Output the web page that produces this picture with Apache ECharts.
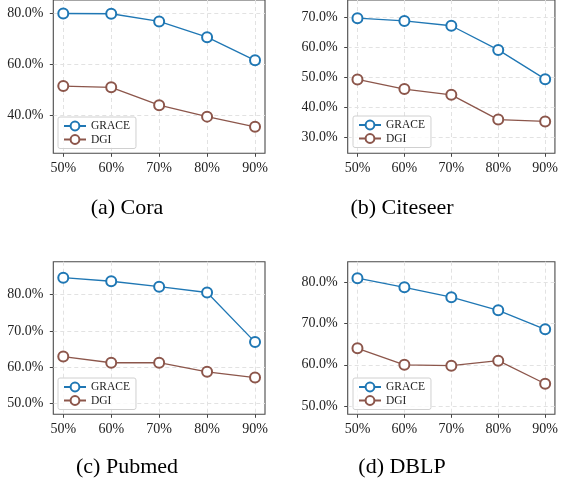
<!DOCTYPE html>
<html>
<head>
<meta charset="utf-8">
<script src="https://cdn.jsdelivr.net/npm/echarts@6/dist/echarts.min.js"></script>
<style>html,body{margin:0;padding:0;background:#fff}#c{width:561px;height:485px}</style>
</head>
<body>
<div id="c"></div>
<script>
// ---- data ----
const ratioValues = [50, 60, 70, 80, 90];
const seriesNames = ['GRACE', 'DGI'];
const captions = ['(a) Cora', '(b) Citeseer', '(c) Pubmed', '(d) DBLP'];

const coraGRACE = [80.0, 79.9, 76.9, 70.7, 61.6];
const coraDGI = [51.5, 51.0, 44.0, 39.5, 35.5];
const citeseerGRACE = [69.6, 68.7, 67.1, 59.1, 49.4];
const citeseerDGI = [49.3, 46.1, 44.2, 36.0, 35.4];
const pubmedGRACE = [84.7, 83.7, 82.2, 80.6, 66.9];
const pubmedDGI = [62.9, 61.2, 61.2, 58.7, 57.1];
const dblpGRACE = [81.0, 78.8, 76.4, 73.2, 68.6];
const dblpDGI = [64.0, 60.0, 59.8, 61.0, 55.4];

const coraTicks = [40, 60, 80];
const citeseerTicks = [30, 40, 50, 60, 70];
const pubmedTicks = [50, 60, 70, 80];
const dblpTicks = [50, 60, 70, 80];

// ---- layout / style ----
const colors = ['#1f77b4', '#8c564b'];
const panels = [
  {g: coraGRACE, d: coraDGI, ticks: coraTicks, yMin: 25.1, yMax: 85.3,
   grid: {left: 53.3, top: 0, width: 211.7, height: 153.3}, legend: {left: 58, top: 117}, cap: {x: 127, y: 208}},
  {g: citeseerGRACE, d: citeseerDGI, ticks: citeseerTicks, yMin: 24.83, yMax: 75.63,
   grid: {left: 347.7, top: 0, width: 210.6, height: 153.3}, legend: {left: 353, top: 116}, cap: {x: 402, y: 208}},
  {g: pubmedGRACE, d: pubmedDGI, ticks: pubmedTicks, yMin: 46.96, yMax: 89.1,
   grid: {left: 53.3, top: 261.7, width: 211.7, height: 152.6}, legend: {left: 58, top: 378}, cap: {x: 127, y: 467}},
  {g: dblpGRACE, d: dblpDGI, ticks: dblpTicks, yMin: 48.0, yMax: 85.0,
   grid: {left: 347.7, top: 261.7, width: 210.6, height: 152.6}, legend: {left: 353, top: 378}, cap: {x: 402, y: 467}}
];

const tickFont = {fontFamily: 'Liberation Serif', fontSize: 14, color: '#222'};
const gridArr = [], xArr = [], yArr = [], seriesArr = [], legendArr = [], graphicArr = [];

panels.forEach((p, i) => {
  gridArr.push(Object.assign({show: true, borderColor: '#4a4a4a', borderWidth: 1.1, backgroundColor: 'transparent'}, p.grid));
  xArr.push({
    type: 'value', gridIndex: i, min: 47.92, max: 92.08,
    axisLine: {show: false},
    axisTick: {show: true, length: 3.5, lineStyle: {color: '#444'}, customValues: ratioValues},
    axisLabel: Object.assign({margin: 8.5, customValues: ratioValues, formatter: v => Math.round(v) + '%'}, tickFont),
    splitLine: {show: true, lineStyle: {color: '#e2e2e2', type: [4, 3], width: 1}}
  });
  yArr.push({
    type: 'value', gridIndex: i, min: p.yMin, max: p.yMax,
    axisLine: {show: false},
    axisTick: {show: true, length: 3.5, lineStyle: {color: '#444'}, customValues: p.ticks},
    axisLabel: Object.assign({margin: 10, customValues: p.ticks, formatter: v => v.toFixed(1) + '%'}, tickFont),
    splitLine: {show: true, lineStyle: {color: '#e2e2e2', type: [4, 3], width: 1}}
  });
  [p.g, p.d].forEach((vals, k) => {
    seriesArr.push({
      name: seriesNames[k], type: 'line', xAxisIndex: i, yAxisIndex: i,
      data: ratioValues.map((x, j) => [x, vals[j]]),
      symbol: 'emptyCircle', symbolSize: 10,
      itemStyle: {color: colors[k], borderWidth: 1.3},
      lineStyle: {color: colors[k], width: 1.3},
      emphasis: {disabled: true}, animation: false
    });
  });
  legendArr.push({
    data: seriesNames, orient: 'vertical', left: p.legend.left, top: p.legend.top,
    itemWidth: 22, itemHeight: 11, itemGap: 1.5,
    padding: [3, 6, 3, 5],
    borderColor: '#d0d0d0', borderWidth: 1, borderRadius: 2, backgroundColor: 'rgba(255,255,255,0.8)',
    textStyle: {fontFamily: 'Liberation Serif', fontSize: 11.5, color: '#222', lineHeight: 12},
    selectedMode: false
  });
  graphicArr.push({
    type: 'text', x: p.cap.x, y: p.cap.y,
    style: {text: captions[i], font: '22px "Liberation Serif"', fill: '#000', textAlign: 'center', textVerticalAlign: 'middle'}
  });
});

const chart = echarts.init(document.getElementById('c'), null, {renderer: 'canvas'});
chart.setOption({
  animation: false,
  grid: gridArr, xAxis: xArr, yAxis: yArr, series: seriesArr, legend: legendArr, graphic: graphicArr
});
</script>
</body>
</html>
